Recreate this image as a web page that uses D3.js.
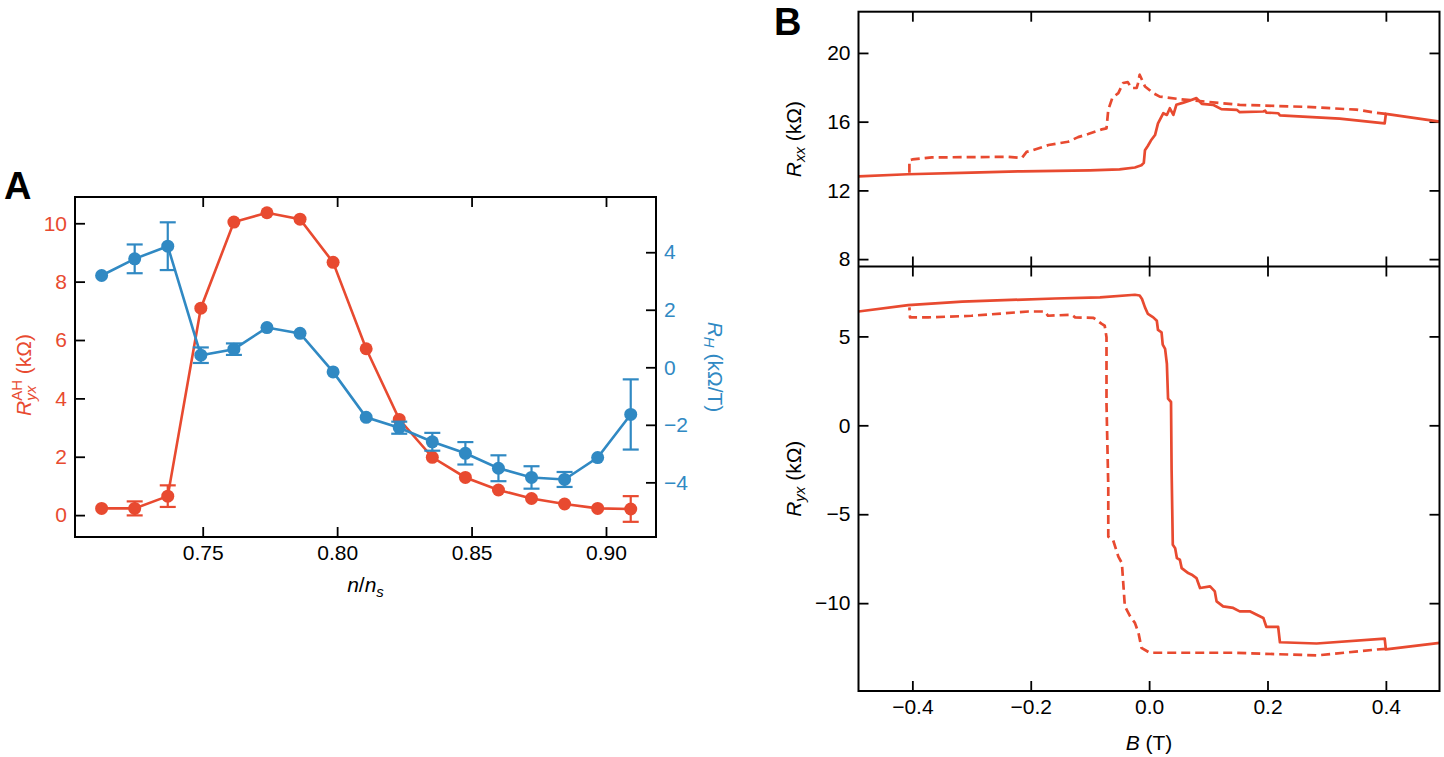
<!DOCTYPE html>
<html>
<head>
<meta charset="utf-8">
<script src="https://cdn.jsdelivr.net/npm/d3@7"></script>
<style>
  body { margin: 0; background: #fff; }
  svg { font-family: "Liberation Sans Narrow", "Liberation Sans", Arial, sans-serif; }
</style>
</head>
<body>
<div id="chart"></div>
<script>
// ---- Panel A data ----
const nRatio = [0.7124, 0.7247, 0.7370, 0.7493, 0.7616, 0.7739, 0.7862, 0.7985, 0.8108,
                0.8231, 0.8354, 0.8477, 0.8600, 0.8723, 0.8846, 0.8969, 0.9092];
const rAH    = [0.23, 0.23, 0.65, 7.09, 10.04, 10.36, 10.14, 8.66, 5.70,
                3.28, 1.98, 1.29, 0.86, 0.57, 0.38, 0.23, 0.21];
const rAHErr = [0, 0.24, 0.37, 0, 0, 0, 0, 0, 0, 0, 0, 0, 0, 0, 0, 0, 0.44];
const rH     = [3.19, 3.77, 4.21, 0.42, 0.63, 1.38, 1.18, -0.16, -1.74,
                -2.10, -2.59, -2.99, -3.51, -3.83, -3.90, -3.14, -1.64];
const rHErr  = [0, 0.50, 0.83, 0.27, 0.20, 0, 0, 0, 0, 0.21, 0.31, 0.39, 0.45, 0.39, 0.26, 0, 1.22];
const nTicks = [0.75, 0.80, 0.85, 0.90];
const rAHTicks = [0, 2, 4, 6, 8, 10];
const rHTicks = [-4, -2, 0, 2, 4];

// ---- Panel B data ----
const rxxSolidB = [-0.491, -0.408, -0.30, -0.215, -0.10, -0.05, -0.024, -0.013, -0.009, -0.007, -0.002, 0.003,
                   0.010, 0.015, 0.024, 0.030, 0.035, 0.041, 0.046, 0.058, 0.069, 0.080, 0.089, 0.108,
                   0.122, 0.148, 0.153, 0.193, 0.196, 0.198, 0.218, 0.221, 0.322, 0.398, 0.400, 0.491];
const rxxSolid  = [12.82, 12.94, 13.03, 13.11, 13.17, 13.22, 13.33, 13.46, 13.60, 14.34, 14.60, 14.90,
                   15.22, 15.90, 16.49, 16.39, 16.78, 16.39, 16.98, 17.11, 17.23, 17.37, 17.04, 16.98,
                   16.73, 16.69, 16.55, 16.59, 16.64, 16.53, 16.49, 16.37, 16.18, 15.90, 16.45, 16.00];
const rxxDashB  = [0.400, 0.384, 0.350, 0.265, 0.153, 0.100, 0.052, 0.018, 0.007, -0.007, -0.016, -0.019,
                   -0.021, -0.030, -0.036, -0.044, -0.052, -0.062, -0.069, -0.072, -0.080, -0.103, -0.120,
                   -0.137, -0.170, -0.200, -0.207, -0.215, -0.238, -0.367, -0.400, -0.405, -0.405];
const rxxDash   = [16.45, 16.52, 16.70, 16.86, 16.98, 17.15, 17.31, 17.46, 17.66, 18.05, 18.73, 18.20,
                   17.96, 17.96, 18.30, 18.25, 17.66, 17.40, 16.69, 15.61, 15.55, 15.28, 15.10,
                   14.83, 14.64, 14.30, 14.24, 13.89, 13.95, 13.92, 13.80, 13.76, 12.94];
const ryxSolidB = [-0.491, -0.407, -0.316, -0.159, -0.083, -0.024, -0.016, -0.012, -0.007, -0.002, 0.007,
                   0.013, 0.015, 0.021, 0.023, 0.027, 0.030, 0.032, 0.037, 0.038, 0.040, 0.044, 0.047,
                   0.052, 0.055, 0.066, 0.072, 0.080, 0.086, 0.103, 0.111, 0.114, 0.125, 0.142, 0.153,
                   0.170, 0.181, 0.193, 0.198, 0.218, 0.221, 0.283, 0.398, 0.400, 0.491];
const ryxSolid  = [6.40, 6.76, 6.96, 7.13, 7.19, 7.34, 7.30, 7.10, 6.63, 6.26, 6.07,
                   5.88, 5.36, 5.23, 4.54, 4.30, 3.46, 1.50, 1.31, -2.52, -6.72, -6.91, -7.47,
                   -7.56, -8.03, -8.31, -8.40, -8.59, -9.15, -9.06, -9.34, -9.90, -10.18, -10.27, -10.46,
                   -10.46, -10.64, -10.83, -11.33, -11.33, -12.20, -12.27, -11.99, -12.60, -12.23];
const ryxDashB  = [0.400, 0.384, 0.283, 0.142, 0.001, -0.013, -0.018, -0.024, -0.032, -0.041, -0.046,
                   -0.052, -0.061, -0.069, -0.069, -0.072, -0.072, -0.075, -0.080, -0.094, -0.125, -0.131,
                   -0.171, -0.176, -0.204, -0.300, -0.373, -0.404, -0.405];
const ryxDash   = [-12.57, -12.61, -12.94, -12.79, -12.79, -12.51, -11.67, -11.11, -10.74, -10.18, -7.75,
                   -7.38, -6.44, -6.26, -3.46, 1.23, 4.95, 5.60, 5.70, 6.04, 6.07, 6.22,
                   6.16, 6.40, 6.40, 6.16, 6.07, 6.07, 6.63];
const bTicks = [-0.4, -0.2, 0.0, 0.2, 0.4];
const rxxTicks = [8, 12, 16, 20];
const ryxTicks = [-10, -5, 0, 5];

const RED = "#e84a30", BLUE = "#3089c3";
const FS = 21, SUB = 15;

const svg = d3.select("#chart").append("svg")
    .attr("width", 1444).attr("height", 757);

// inward ticks helper
function drawAxis(g, axis, fmt, color, labels) {
    g.call(axis.tickSizeInner(-10).tickSizeOuter(0).tickPadding(labels ? 8 : 0).tickFormat(labels ? fmt : ""));
    g.select(".domain").remove();
    g.attr("font-family", null).attr("font-size", FS);
    g.selectAll(".tick line").attr("stroke", "#000").attr("stroke-width", 1.8);
    g.selectAll(".tick text").attr("fill", color);
    return g;
}
const minus = s => s.replace("-", "\u2212");

// ================= Panel A =================
const A = {left: 75, right: 656, top: 197, bottom: 537};
const xA = d3.scaleLinear().domain([0.7025, 0.9186]).range([A.left, A.right]);
const yL = d3.scaleLinear().domain([-0.75, 10.9]).range([A.bottom, A.top]);
const yR = d3.scaleLinear().domain([-5.9, 5.92]).range([A.bottom, A.top]);

const gA = svg.append("g");
drawAxis(gA.append("g").attr("transform", `translate(0,${A.bottom})`),
    d3.axisBottom(xA).tickValues(nTicks), d3.format(".2f"), "#000", true);
drawAxis(gA.append("g").attr("transform", `translate(0,${A.top})`),
    d3.axisTop(xA).tickValues(nTicks), null, "#000", false);
drawAxis(gA.append("g").attr("transform", `translate(${A.left},0)`),
    d3.axisLeft(yL).tickValues(rAHTicks), d3.format("d"), RED, true);
drawAxis(gA.append("g").attr("transform", `translate(${A.right},0)`),
    d3.axisRight(yR).tickValues(rHTicks), d => minus(d3.format("d")(d)), BLUE, true);

const ptsA = nRatio.map((n, i) => ({n, red: rAH[i], redErr: rAHErr[i], blue: rH[i], blueErr: rHErr[i]}));

function series(key, errKey, yScale, color) {
    const g = gA.append("g");
    g.append("path").datum(ptsA)
        .attr("fill", "none").attr("stroke", color).attr("stroke-width", 2.6)
        .attr("d", d3.line().x(d => xA(d.n)).y(d => yScale(d[key])));
    const eb = g.selectAll(".eb").data(ptsA.filter(d => d[errKey] > 0)).join("g")
        .attr("stroke", color).attr("stroke-width", 2.2);
    eb.append("line").attr("x1", d => xA(d.n)).attr("x2", d => xA(d.n))
        .attr("y1", d => yScale(d[key] - d[errKey])).attr("y2", d => yScale(d[key] + d[errKey]));
    eb.append("line").attr("x1", d => xA(d.n) - 8).attr("x2", d => xA(d.n) + 8)
        .attr("y1", d => yScale(d[key] - d[errKey])).attr("y2", d => yScale(d[key] - d[errKey]));
    eb.append("line").attr("x1", d => xA(d.n) - 8).attr("x2", d => xA(d.n) + 8)
        .attr("y1", d => yScale(d[key] + d[errKey])).attr("y2", d => yScale(d[key] + d[errKey]));
    g.selectAll("circle").data(ptsA).join("circle")
        .attr("cx", d => xA(d.n)).attr("cy", d => yScale(d[key])).attr("r", 6.5).attr("fill", color);
}
series("red", "redErr", yL, RED);
series("blue", "blueErr", yR, BLUE);

gA.append("rect").attr("x", A.left).attr("y", A.top)
    .attr("width", A.right - A.left).attr("height", A.bottom - A.top)
    .attr("fill", "none").attr("stroke", "#000").attr("stroke-width", 2);

// labels A
const xl = gA.append("text").attr("x", (A.left + A.right) / 2).attr("y", 592)
    .attr("text-anchor", "middle").attr("font-size", FS);
xl.append("tspan").attr("font-style", "italic").text("n");
xl.append("tspan").text("/");
xl.append("tspan").attr("font-style", "italic").text("n");
xl.append("tspan").attr("font-style", "italic").attr("font-size", SUB).attr("dy", 5).text("s");

const yl = gA.append("text").attr("transform", `translate(31,${(A.top + A.bottom) / 2 + 8}) rotate(-90)`)
    .attr("text-anchor", "middle").attr("font-size", FS).attr("fill", RED);
yl.append("tspan").attr("font-style", "italic").text("R");
const sub = yl.append("tspan").attr("font-style", "italic").attr("font-size", SUB).attr("dy", 5).text("yx");
const sup = yl.append("tspan").attr("font-size", SUB).attr("dy", -14).text("AH");
yl.append("tspan").attr("dy", 9).text(" (k\u03A9)");
sup.attr("dx", -sub.node().getComputedTextLength());

const yr = gA.append("text").attr("transform", `translate(708,${(A.top + A.bottom) / 2}) rotate(90)`)
    .attr("text-anchor", "middle").attr("font-size", FS).attr("fill", BLUE);
yr.append("tspan").attr("font-style", "italic").text("R");
yr.append("tspan").attr("font-style", "italic").attr("font-size", SUB).attr("dy", 4).text("H");
yr.append("tspan").attr("dy", -4).text(" (k\u03A9/T)");

svg.append("text").attr("x", 4).attr("y", 199).attr("font-size", 38).attr("font-weight", "bold")
    .attr("font-family", "'Liberation Sans', Arial, sans-serif").text("A");

// ================= Panel B =================
const B = {left: 858.5, right: 1439.5, top: 11.7, mid: 266.5, bottom: 691};
const xB = d3.scaleLinear().domain([-0.491, 0.4906]).range([B.left, B.right]);
const yT = d3.scaleLinear().domain([7.57, 22.4]).range([B.mid, B.top]);
const yBt = d3.scaleLinear().domain([-14.94, 8.93]).range([B.bottom, B.mid]);

const gB = svg.append("g");
const fmtB = d => minus(d3.format(".1f")(d));
drawAxis(gB.append("g").attr("transform", `translate(0,${B.bottom})`), d3.axisBottom(xB).tickValues(bTicks), fmtB, "#000", true);
drawAxis(gB.append("g").attr("transform", `translate(0,${B.mid})`), d3.axisTop(xB).tickValues(bTicks), null, "#000", false);
drawAxis(gB.append("g").attr("transform", `translate(0,${B.mid})`), d3.axisBottom(xB).tickValues(bTicks), null, "#000", false);
drawAxis(gB.append("g").attr("transform", `translate(0,${B.top})`), d3.axisTop(xB).tickValues(bTicks), null, "#000", false);
drawAxis(gB.append("g").attr("transform", `translate(${B.left},0)`), d3.axisLeft(yT).tickValues(rxxTicks), d3.format("d"), "#000", true);
drawAxis(gB.append("g").attr("transform", `translate(${B.right},0)`), d3.axisRight(yT).tickValues(rxxTicks), null, "#000", false);
drawAxis(gB.append("g").attr("transform", `translate(${B.left},0)`), d3.axisLeft(yBt).tickValues(ryxTicks), d => minus(d3.format("d")(d)), "#000", true);
drawAxis(gB.append("g").attr("transform", `translate(${B.right},0)`), d3.axisRight(yBt).tickValues(ryxTicks), null, "#000", false);

function curve(bs, vs, yScale, dashed) {
    gB.append("path").datum(bs.map((b, i) => [b, vs[i]]))
        .attr("fill", "none").attr("stroke", RED).attr("stroke-width", 2.7)
        .attr("stroke-linejoin", "round")
        .attr("stroke-dasharray", dashed ? "9,5" : null)
        .attr("d", d3.line().x(d => xB(d[0])).y(d => yScale(d[1])));
}
curve(rxxSolidB, rxxSolid, yT, false);
curve(rxxDashB, rxxDash, yT, true);
curve(ryxSolidB, ryxSolid, yBt, false);
curve(ryxDashB, ryxDash, yBt, true);

gB.append("rect").attr("x", B.left).attr("y", B.top).attr("width", B.right - B.left).attr("height", B.bottom - B.top)
    .attr("fill", "none").attr("stroke", "#000").attr("stroke-width", 2);
gB.append("line").attr("x1", B.left).attr("x2", B.right).attr("y1", B.mid).attr("y2", B.mid)
    .attr("stroke", "#000").attr("stroke-width", 2);

const ylT = gB.append("text").attr("transform", `translate(801,${(B.top + B.mid) / 2}) rotate(-90)`)
    .attr("text-anchor", "middle").attr("font-size", FS);
ylT.append("tspan").attr("font-style", "italic").text("R");
ylT.append("tspan").attr("font-style", "italic").attr("font-size", SUB).attr("dy", 4).text("xx");
ylT.append("tspan").attr("dy", -4).text(" (k\u03A9)");

const ylB = gB.append("text").attr("transform", `translate(801,${(B.mid + B.bottom) / 2}) rotate(-90)`)
    .attr("text-anchor", "middle").attr("font-size", FS);
ylB.append("tspan").attr("font-style", "italic").text("R");
ylB.append("tspan").attr("font-style", "italic").attr("font-size", SUB).attr("dy", 4).text("yx");
ylB.append("tspan").attr("dy", -4).text(" (k\u03A9)");

const xlB = gB.append("text").attr("x", (B.left + B.right) / 2).attr("y", 750)
    .attr("text-anchor", "middle").attr("font-size", FS);
xlB.append("tspan").attr("font-style", "italic").text("B");
xlB.append("tspan").text(" (T)");

svg.append("text").attr("x", 774).attr("y", 35).attr("font-size", 38).attr("font-weight", "bold")
    .attr("font-family", "'Liberation Sans', Arial, sans-serif").text("B");
</script>
</body>
</html>
